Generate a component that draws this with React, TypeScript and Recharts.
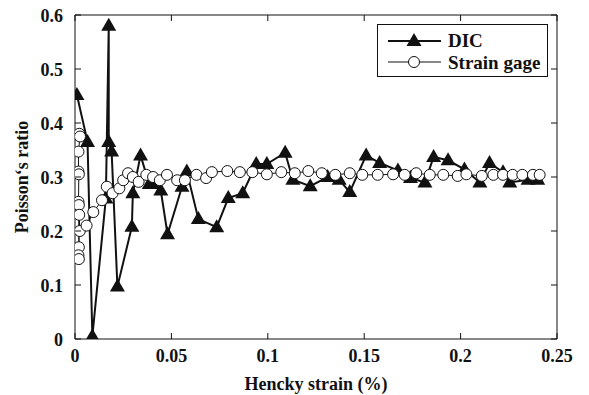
import React from 'react';
import { LineChart, Line, XAxis, YAxis } from 'recharts';

// DIC (triangles)
const dicX = [0.001, 0.0065, 0.009, 0.016, 0.0175, 0.0175, 0.019, 0.022, 0.0295, 0.03, 0.034, 0.0385, 0.0405, 0.0445, 0.048, 0.0555, 0.058, 0.064, 0.0735, 0.0795, 0.087, 0.094, 0.0995, 0.109, 0.113, 0.122, 0.131, 0.137, 0.1425, 0.151, 0.158, 0.1675, 0.174, 0.1815, 0.186, 0.1935, 0.202, 0.21, 0.215, 0.222, 0.2255, 0.235, 0.24];
const dicY = [0.452, 0.365, 0.005, 0.26, 0.58, 0.365, 0.347, 0.097, 0.208, 0.27, 0.34, 0.287, 0.287, 0.275, 0.194, 0.282, 0.31, 0.222, 0.207, 0.261, 0.27, 0.324, 0.324, 0.345, 0.295, 0.283, 0.3, 0.295, 0.272, 0.34, 0.326, 0.312, 0.298, 0.29, 0.337, 0.331, 0.314, 0.29, 0.326, 0.309, 0.29, 0.295, 0.295];

// Strain gage (open circles)
const gageX = [0.0022, 0.0026, 0.0018, 0.0018, 0.002, 0.0018, 0.002, 0.002, 0.0018, 0.002, 0.0022, 0.0025, 0.006, 0.0095, 0.014, 0.0165, 0.0195, 0.023, 0.025, 0.0275, 0.03, 0.033, 0.037, 0.0405, 0.044, 0.0477, 0.053, 0.057, 0.063, 0.068, 0.071, 0.079, 0.0855, 0.092, 0.0995, 0.107, 0.114, 0.121, 0.128, 0.135, 0.1425, 0.149, 0.157, 0.165, 0.171, 0.177, 0.184, 0.191, 0.1985, 0.203, 0.211, 0.217, 0.222, 0.227, 0.232, 0.2375, 0.241];
const gageY = [0.38, 0.375, 0.347, 0.31, 0.305, 0.254, 0.248, 0.17, 0.155, 0.148, 0.23, 0.2, 0.21, 0.235, 0.257, 0.282, 0.27, 0.279, 0.294, 0.307, 0.3, 0.291, 0.304, 0.3, 0.294, 0.304, 0.294, 0.294, 0.304, 0.298, 0.309, 0.311, 0.309, 0.309, 0.305, 0.309, 0.307, 0.311, 0.307, 0.304, 0.307, 0.304, 0.304, 0.305, 0.304, 0.307, 0.304, 0.304, 0.302, 0.305, 0.302, 0.304, 0.304, 0.304, 0.304, 0.304, 0.304];

const xTicks = [0, 0.05, 0.1, 0.15, 0.2, 0.25];
const yTicks = [0, 0.1, 0.2, 0.3, 0.4, 0.5, 0.6];

const dicData = dicX.map((x, i) => ({ x, y: dicY[i] }));
const gageData = gageX.map((x, i) => ({ x, y: gageY[i] }));

const FONT = '"Liberation Serif", "Times New Roman", serif';
const FS = 18;
const TICK = 6;

const Triangle = (props: any) => {
    const { cx, cy } = props;
    if (cx == null || cy == null) return null;
    return <path d={`M${cx},${cy - 8} L${cx + 7.5},${cy + 5} L${cx - 7.5},${cy + 5} Z`} fill="#111" />;
};

const Circle = (props: any) => {
    const { cx, cy } = props;
    if (cx == null || cy == null) return null;
    return <circle cx={cx} cy={cy} r={5.5} fill="#fff" stroke="#111" strokeWidth={1} />;
};

const fmt = (v: number) => String(v);

const BottomTick = ({ x, y, payload }: any) => (
    <g>
        <line x1={x} y1={y} x2={x} y2={y - TICK} stroke="#111" />
        <text x={x} y={y + 23} textAnchor="middle" fontFamily={FONT} fontWeight="bold" fontSize={FS} fill="#111">{fmt(payload.value)}</text>
    </g>
);
const TopTick = ({ x, y }: any) => <line x1={x} y1={y} x2={x} y2={y + TICK} stroke="#111" />;
const LeftTick = ({ x, y, payload }: any) => (
    <g>
        <line x1={x} y1={y} x2={x + TICK} y2={y} stroke="#111" />
        <text x={x - 12} y={y + 7} textAnchor="end" fontFamily={FONT} fontWeight="bold" fontSize={FS} fill="#111">{fmt(payload.value)}</text>
    </g>
);
const RightTick = ({ x, y }: any) => <line x1={x} y1={y} x2={x - TICK} y2={y} stroke="#111" />;

const LegendBox = () => (
    <div style={{ position: 'absolute', left: 377, top: 24, border: '1.5px solid #111', width: 171, height: 53, boxSizing: 'border-box', background: '#fff', fontFamily: FONT, fontWeight: 'bold', fontSize: 19, color: '#111', lineHeight: 1 }}>
        <div style={{ display: 'flex', alignItems: 'center', height: 22, marginTop: 4 }}>
            <svg width={70} height={20}>
                <line x1={10} y1={11} x2={63} y2={11} stroke="#111" strokeWidth={2} />
                <Triangle cx={36} cy={11} />
            </svg>
            <span>DIC</span>
        </div>
        <div style={{ display: 'flex', alignItems: 'center', height: 22 }}>
            <svg width={70} height={20}>
                <line x1={10} y1={10} x2={63} y2={10} stroke="#111" strokeWidth={1} />
                <Circle cx={36} cy={10} />
            </svg>
            <span>Strain gage</span>
        </div>
    </div>
);

const YLabel = ({ viewBox }: any) => {
    const cx = viewBox.x + 22;
    const cy = viewBox.y + viewBox.height / 2;
    return (
        <text x={cx} y={cy} transform={`rotate(-90 ${cx} ${cy})`} textAnchor="middle" dominantBaseline="central" fontFamily={FONT} fontWeight="bold" fontSize={FS} fill="#111">
            Poisson‘s ratio
        </text>
    );
};

export default function App() {
    return (
        <div style={{ position: 'absolute', left: 0, top: 0, width: 589, height: 395, background: '#fff' }}>
            <LineChart width={589} height={395} margin={{ top: 14, right: 31, bottom: 0, left: 0 }}>
                <XAxis
                    xAxisId="b" dataKey="x" type="number" domain={[0, 0.25]} ticks={xTicks} allowDataOverflow
                    orientation="bottom" height={56} tickSize={0} tickMargin={0} tickLine={false}
                    axisLine={{ stroke: '#111' }} tick={<BottomTick />} interval={0}
                    label={{ value: 'Hencky strain (%)', position: 'insideBottom', offset: 5, fontFamily: FONT, fontWeight: 'bold', fontSize: FS, fill: '#111' }}
                />
                <XAxis
                    xAxisId="t" dataKey="x" type="number" domain={[0, 0.25]} ticks={xTicks} allowDataOverflow
                    orientation="top" height={1} tickSize={0} tickMargin={0} tickLine={false}
                    axisLine={{ stroke: '#111' }} tick={<TopTick />} interval={0}
                />
                <YAxis
                    yAxisId="l" type="number" domain={[0, 0.6]} ticks={yTicks} allowDataOverflow
                    orientation="left" width={75} tickSize={0} tickMargin={0} tickLine={false}
                    axisLine={{ stroke: '#111' }} tick={<LeftTick />} interval={0}
                    label={<YLabel />}
                />
                <YAxis
                    yAxisId="r" type="number" domain={[0, 0.6]} ticks={yTicks} allowDataOverflow
                    orientation="right" width={1} tickSize={0} tickMargin={0} tickLine={false}
                    axisLine={{ stroke: '#111' }} tick={<RightTick />} interval={0}
                />
                <Line
                    xAxisId="b" yAxisId="l" data={dicData} dataKey="y" type="linear"
                    stroke="#111" strokeWidth={2} dot={<Triangle />} activeDot={false}
                    isAnimationActive={false} name="DIC"
                />
                <Line
                    xAxisId="b" yAxisId="l" data={gageData} dataKey="y" type="linear"
                    stroke="#111" strokeWidth={1} dot={<Circle />} activeDot={false}
                    isAnimationActive={false} name="Strain gage"
                />
            </LineChart>
            <LegendBox />
        </div>
    );
}
